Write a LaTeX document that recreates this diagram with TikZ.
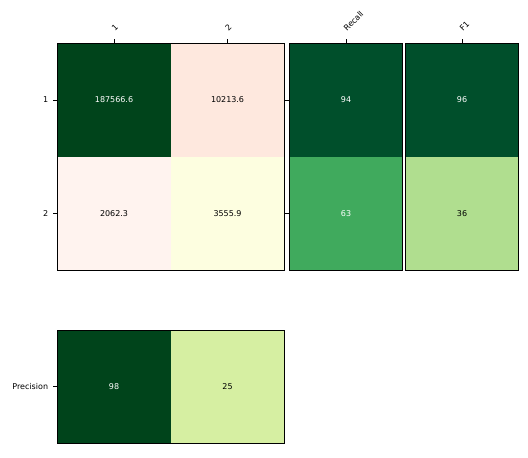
\documentclass[tikz,border=0pt]{standalone}
\usepackage{fontspec}
\setmainfont{DejaVu Sans}

\definecolor{darkgreen}{HTML}{00441B}
\definecolor{deepgreen}{HTML}{004F2B}
\definecolor{midgreen}{HTML}{40AA5D}
\definecolor{lightgreen}{HTML}{B0DE8F}
\definecolor{palegreen}{HTML}{D6EFA2}
\definecolor{peach}{HTML}{FEE8DE}
\definecolor{blush}{HTML}{FFF3EF}
\definecolor{cream}{HTML}{FDFEE0}

\begin{document}
\begin{tikzpicture}[x=1pt,y=1pt,every node/.style={font=\fontsize{8}{9.6}\selectfont}]

      \useasboundingbox (0,0) rectangle (528,458);

      \begin{scope}[every node/.style={minimum width=113.5pt,minimum height=113.35pt,inner sep=0pt,outer sep=0pt,font=\fontsize{8}{9.6}\selectfont}]
        \node[fill=darkgreen,text=white] (11) at (114.05,358)  {187566.6};
        \node[fill=peach]                (12) at (227.55,358)  {10213.6};
        \node[fill=blush]                (21) at (114.05,244.65) {2062.3};
        \node[fill=cream]                (22) at (227.55,244.65) {3555.9};
        \node[fill=deepgreen,text=white] (r1) at (346,358)     {94};
        \node[fill=midgreen,text=white]  (r2) at (346,244.65)  {63};
        \node[fill=deepgreen,text=white] (f1) at (462,358)     {96};
        \node[fill=lightgreen]           (f2) at (462,244.65)  {36};
        \node[fill=darkgreen,text=white] (p1) at (114.05,71.3) {98};
        \node[fill=palegreen]            (p2) at (227.55,71.3) {25};
      \end{scope}

      \begin{scope}[line width=0.8pt]
        \draw (11.north west) rectangle (22.south east);
        \draw (r1.north west) rectangle (r2.south east);
        \draw (f1.north west) rectangle (f2.south east);
        \draw (p1.north west) rectangle (p2.south east);
      \end{scope}

      \begin{scope}[line width=0.8pt]
        \draw (11.north) -- ++(0,4.5) coordinate (t1);
        \draw (12.north) -- ++(0,4.5) coordinate (t2);
        \draw (r1.north) -- ++(0,4.5) coordinate (t3);
        \draw (f1.north) -- ++(0,4.5) coordinate (t4);
        \draw (11.west) -- ++(-4.5,0) coordinate (y1);
        \draw (21.west) -- ++(-4.5,0) coordinate (y2);
        \draw (p1.west) -- ++(-4.5,0) coordinate (y3);
        \draw (r1.west) -- ++(-4.5,0);
        \draw (r2.west) -- ++(-4.5,0);
      \end{scope}

      \begin{scope}[every node/.style={inner sep=0pt,font=\fontsize{8}{9.6}\selectfont}]
        \node[rotate=45,anchor=base west] at ([shift={(1,7)}]t1) {1};
        \node[rotate=45,anchor=base west] at ([shift={(1,7)}]t2) {2};
        \node[rotate=45,anchor=base west] at ([shift={(1,7)}]t3) {Recall};
        \node[rotate=45,anchor=base west] at ([shift={(1,7)}]t4) {F1};
        \node[anchor=east] at ([xshift=-4.5pt]y1) {1};
        \node[anchor=east] at ([xshift=-4.5pt]y2) {2};
        \node[anchor=east] at ([xshift=-4.5pt]y3) {Precision};
      \end{scope}

    \end{tikzpicture}
\end{document}
